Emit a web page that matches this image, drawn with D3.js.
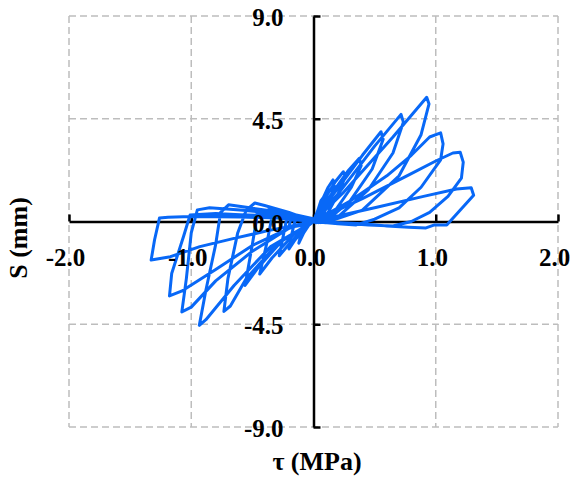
<!DOCTYPE html>
<html lang="en">
<head>
  <meta charset="UTF-8">
  <title>Hysteresis S - tau</title>
  <style type="text/css">
    body{
      margin: 0;
      background: #fff;
    }
    text{
      font-family: "Liberation Serif", "Times New Roman", serif;
      font-weight: bold;
      fill: #000;
    }
    .grid line{
      stroke: #bdbdbd;
      stroke-width: 1.5px;
      stroke-dasharray: 7,4;
    }
    .axis path,
    .axis line{
      stroke: #000;
      stroke-width: 2.5px;
      fill: none;
    }
    .labels path,
    .labels line{
      display: none;
    }
    .curve{
      fill: none;
      stroke: #0868f7;
      stroke-width: 3px;
      stroke-linejoin: round;
    }
  </style>
  <script src="https://cdnjs.cloudflare.com/ajax/libs/d3/7.8.5/d3.min.js"></script>
</head>
<body>
<script type="text/javascript">
  // tick values
  var xTicks = [-2, -1, 0, 1, 2];
  var yTicks = [-9, -4.5, 0, 4.5, 9];

  // cycles, [tau (MPa), S (mm)]
  var cycle0a = [[0,0],[0.02,0.3],[0.04,0.5],[0.03,0.2],[0,0],[-0.05,0.06],[-0.07,-0.3],[-0.03,-0.12],[0,0]];
  var cycle0b = [[0,0],[0.06,0.15],[0.12,0.35],[0.1,0.1],[0.02,-0.05],[-0.1,0.12],[-0.19,0.05],[-0.2,-0.25],[-0.1,-0.18],[0,0]];
  var cycle1 = [[0,0],[0.03,0.4],[0.06,0.9],[0.08,1.05],[0.07,0.6],[0.03,0.1],[0,0],[-0.04,0.08],[-0.08,0.05],[-0.1,-0.5],[-0.12,-0.95],[-0.08,-0.5],[-0.03,-0.1],[0,0]];
  var cycle2 = [[0,0],[0.05,0.7],[0.12,1.5],[0.16,1.82],[0.17,1.55],[0.13,0.9],[0.08,0.3],[0.02,-0.05],[-0.05,0.12],[-0.12,0.18],[-0.15,0.05],[-0.18,-0.6],[-0.2,-1.2],[-0.15,-0.8],[-0.07,-0.3],[0,0]];
  var cycle3 = [[0,0],[0.08,0.9],[0.18,1.75],[0.244,2.18],[0.26,1.95],[0.2,1.2],[0.12,0.4],[0.04,-0.05],[-0.08,0.15],[-0.18,0.28],[-0.22,0.1],[-0.25,-0.7],[-0.28,-1.5],[-0.2,-1.0],[-0.1,-0.4],[0,0]];
  var cycle4 = [[0,0],[0.12,1.0],[0.28,2.2],[0.375,2.77],[0.39,2.45],[0.31,1.5],[0.18,0.5],[0.06,-0.05],[-0.12,0.2],[-0.28,0.38],[-0.34,0.2],[-0.38,-0.9],[-0.44,-2.3],[-0.34,-1.6],[-0.15,-0.5],[0,0]];
  var cycle5 = [[0,0],[0.15,1.1],[0.4,2.9],[0.552,3.93],[0.57,3.6],[0.48,2.3],[0.3,0.9],[0.1,0],[-0.15,0.3],[-0.35,0.55],[-0.46,0.3],[-0.5,-1.0],[-0.56,-2.8],[-0.45,-2.0],[-0.25,-0.8],[0,0]];
  var cycle6 = [[0,0],[0.2,1.2],[0.5,3.3],[0.716,4.69],[0.735,4.35],[0.65,3.0],[0.45,1.4],[0.2,0.2],[0,0],[-0.2,0.4],[-0.4,0.7],[-0.48,0.81],[-0.55,0.5],[-0.62,-0.5],[-0.7,-2.5],[-0.733,-3.94],[-0.68,-3.7],[-0.55,-2.5],[-0.3,-1.0],[0,0]];
  var cycle7 = [[0,0],[0.25,1.3],[0.65,3.7],[0.926,5.44],[0.945,5.15],[0.88,3.8],[0.7,2.0],[0.4,0.5],[0.1,-0.05],[0,0],[-0.25,0.4],[-0.55,0.62],[-0.695,0.73],[-0.76,0.4],[-0.8,-1.0],[-0.88,-3.0],[-0.934,-4.55],[-0.88,-4.3],[-0.65,-2.8],[-0.35,-1.1],[0,0]];
  var cycle8 = [[0,0],[0.3,0.9],[0.6,2.0],[0.8,2.9],[0.95,3.7],[1.04,3.88],[1.06,3.4],[1.04,2.7],[0.88,1.5],[0.7,0.6],[0.5,0.1],[0.35,-0.15],[0.2,-0.1],[0,0],[-0.3,0.35],[-0.6,0.5],[-0.85,0.6],[-0.95,0.51],[-1.0,-0.5],[-1.04,-2.5],[-1.077,-3.96],[-1.0,-3.75],[-0.8,-2.6],[-0.5,-1.3],[-0.2,-0.3],[0,0]];
  var cycle9 = [[0,0],[0.4,1.0],[0.8,2.1],[1.0,2.65],[1.14,3.0],[1.2,3.03],[1.225,2.6],[1.21,1.9],[1.1,1.1],[0.95,0.4],[0.8,0],[0.65,-0.2],[0.45,-0.15],[0.2,-0.05],[0,0],[-0.3,0.25],[-0.6,0.3],[-0.8,0.35],[-1.01,0.28],[-1.06,-0.6],[-1.16,-2.28],[-1.178,-3.26],[-1.08,-3.05],[-0.8,-2.1],[-0.5,-1.05],[-0.2,-0.3],[0,0]];
  var cycle10 = [[0,0],[0.5,0.6],[0.9,1.1],[1.17,1.42],[1.29,1.48],[1.31,1.15],[1.09,-0.15],[0.99,-0.15],[0.92,-0.28],[0.78,-0.25],[0.6,-0.2],[0.4,-0.1],[0,0],[-0.3,0.15],[-0.6,0.2],[-1.0,0.22],[-1.19,0.19],[-1.26,0.15],[-1.3,-0.8],[-1.328,-1.69],[-1.17,-1.54],[-0.93,-1.1],[-0.65,-0.74],[-0.38,-0.41],[0,0]];

  var cycles = [cycle0a, cycle0b, cycle1, cycle2, cycle3, cycle4, cycle5, cycle6, cycle7, cycle8, cycle9, cycle10];

  var width = 572, height = 479;

  var svg = d3.select('body')
    .append('svg')
    .attr('width', width)
    .attr('height', height);

  var xScale = d3.scaleLinear()
    .domain([-2, 2])
    .range([69, 558]);

  var yScale = d3.scaleLinear()
    .domain([-9, 9])
    .range([427, 16]);

  var x0 = xScale(0), y0 = yScale(0);
  var fmt = function(d){ return d.toFixed(1); };

  // dashed grid (the box edges too)
  var grid = svg.append('g').attr('class', 'grid');
  grid.selectAll('.gx')
    .data(xTicks.filter(function(d){ return d !== 0; }))
    .enter().append('line')
    .attr('x1', function(d){ return xScale(d); })
    .attr('x2', function(d){ return xScale(d); })
    .attr('y1', yScale(9))
    .attr('y2', yScale(-9));
  grid.selectAll('.gy')
    .data(yTicks.filter(function(d){ return d !== 0; }))
    .enter().append('line')
    .attr('y1', function(d){ return yScale(d); })
    .attr('y2', function(d){ return yScale(d); })
    .attr('x1', xScale(-2))
    .attr('x2', xScale(2));

  // axis lines crossing at the origin, ticks pointing inside
  svg.append('g')
    .attr('class', 'axis')
    .attr('transform', 'translate(0,' + y0 + ')')
    .call(d3.axisBottom(xScale).tickValues(xTicks).tickSizeInner(-7).tickSizeOuter(0).tickFormat(''));

  svg.append('g')
    .attr('class', 'axis')
    .attr('transform', 'translate(' + x0 + ',0)')
    .call(d3.axisLeft(yScale).tickValues(yTicks).tickSizeInner(-7).tickSizeOuter(0).tickFormat(''));

  // the loops
  var line = d3.line()
    .x(function(d){ return xScale(d[0]); })
    .y(function(d){ return yScale(d[1]); });

  var allPts = [];
  cycles.forEach(function(c){ allPts = allPts.concat(c); });

  svg.append('path')
    .datum(allPts)
    .attr('class', 'curve')
    .attr('d', line);

  // tick labels on top of the curve
  var xLab = svg.append('g')
    .attr('class', 'labels')
    .attr('transform', 'translate(-4,' + y0 + ')')
    .call(d3.axisBottom(xScale).tickValues(xTicks).tickSize(0).tickPadding(27).tickFormat(fmt));
  xLab.selectAll('text').attr('font-size', 25).attr('fill', '#000');

  var yLab = svg.append('g')
    .attr('class', 'labels')
    .attr('transform', 'translate(' + x0 + ',0)')
    .call(d3.axisLeft(yScale).tickValues(yTicks).tickSize(0).tickPadding(30).tickFormat(fmt));
  yLab.selectAll('text').attr('font-size', 25).attr('dy', '0.38em').attr('fill', '#000');

  svg.selectAll('.labels').attr('font-family', null).attr('font-size', null);

  // axis titles
  svg.append('text')
    .attr('x', 317)
    .attr('y', 470)
    .attr('text-anchor', 'middle')
    .style('font-size', '26px')
    .text('τ (MPa)');

  svg.append('text')
    .attr('transform', 'translate(27,238) rotate(-90)')
    .attr('text-anchor', 'middle')
    .style('font-size', '26px')
    .text('S (mm)');
</script>
</body>
</html>
